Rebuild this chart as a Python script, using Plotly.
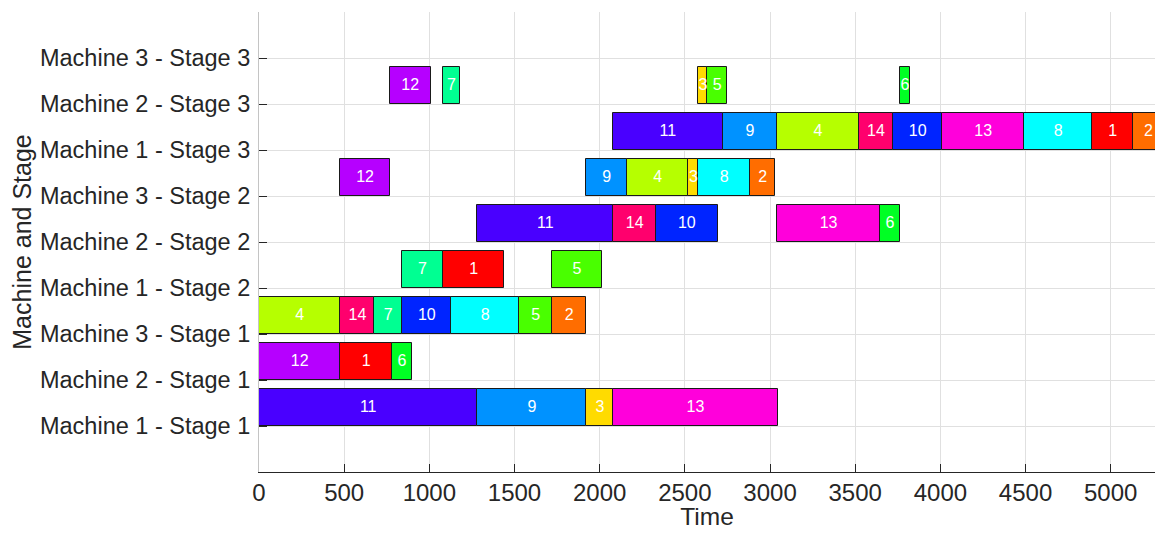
import plotly.graph_objects as go

# Row labels (y positions 1..9)
row_labels = [
    "Machine 1 - Stage 1", "Machine 2 - Stage 1", "Machine 3 - Stage 1",
    "Machine 1 - Stage 2", "Machine 2 - Stage 2", "Machine 3 - Stage 2",
    "Machine 1 - Stage 3", "Machine 2 - Stage 3", "Machine 3 - Stage 3",
]

# Operations: row index, job id, start time, end time
task_rows = [1, 1, 1, 1,
             2, 2, 2,
             3, 3, 3, 3, 3, 3, 3,
             4, 4, 4,
             5, 5, 5, 5, 5,
             6, 6, 6, 6, 6, 6,
             7, 7, 7, 7, 7, 7, 7, 7, 7,
             8, 8, 8, 8, 8]
task_jobs = [11, 9, 3, 13,
             12, 1, 6,
             4, 14, 7, 10, 8, 5, 2,
             7, 1, 5,
             11, 14, 10, 13, 6,
             12, 9, 4, 3, 8, 2,
             11, 9, 4, 14, 10, 13, 8, 1, 2,
             12, 7, 3, 5, 6]
task_start = [0, 1282, 1922, 2081,
              0, 478, 781,
              0, 478, 678, 840, 1130, 1527, 1721,
              840, 1080, 1721,
              1280, 2081, 2331, 3042, 3645,
              478, 1920, 2161, 2521, 2580, 2881,
              2079, 2721, 3042, 3521, 3723, 4011, 4492, 4891, 5132,
              767, 1079, 2580, 2631, 3762]
task_end = [1282, 1922, 2081, 3044,
            478, 781, 898,
            478, 678, 840, 1130, 1527, 1721, 1920,
            1080, 1441, 2011,
            2081, 2331, 2692, 3645, 3762,
            767, 2161, 2521, 2580, 2881, 3032,
            2721, 3042, 3521, 3723, 4011, 4492, 4891, 5132, 5310,
            1008, 1180, 2631, 2750, 3823]

x_ticks = [0, 500, 1000, 1500, 2000, 2500, 3000, 3500, 4000, 4500, 5000]

# hsv(14) colours, job 1..14
job_colors = {
    1: "#FF0000", 2: "#FF6D00", 3: "#FFDB00", 4: "#B6FF00", 5: "#49FF00",
    6: "#00FF24", 7: "#00FF92", 8: "#00FFFF", 9: "#0092FF", 10: "#0024FF",
    11: "#4900FF", 12: "#B600FF", 13: "#FF00DB", 14: "#FF006D",
}

durations = [e - s for s, e in zip(task_start, task_end)]
ypos = [r + 0.4 for r in task_rows]
mids = [(s + e) / 2 for s, e in zip(task_start, task_end)]
colors = [job_colors[j] for j in task_jobs]

FONT = "Liberation Sans, Arial, Helvetica, sans-serif"
TXT = "#262626"

fig = go.Figure()
fig.add_trace(go.Bar(
    orientation="h",
    base=task_start,
    x=durations,
    y=ypos,
    width=0.8,
    marker=dict(color=colors, line=dict(color="#1a1a1a", width=1)),
    showlegend=False,
    hoverinfo="skip",
))
fig.add_trace(go.Scatter(
    x=mids,
    y=ypos,
    mode="text",
    text=[str(j) for j in task_jobs],
    textfont=dict(color="white", size=16, family=FONT),
    textposition="middle center",
    showlegend=False,
    hoverinfo="skip",
))

fig.update_layout(
    width=1147, height=522,
    margin=dict(l=251, r=0, t=4, b=58),
    paper_bgcolor="white", plot_bgcolor="white",
    font=dict(family=FONT, color=TXT, size=23),
    bargap=0,
)
fig.update_xaxes(
    automargin=False,
    range=[0, 5260],
    tickvals=x_ticks,
    ticktext=[str(v) for v in x_ticks],
    tickfont=dict(size=24, color=TXT),
    ticks="inside", ticklen=8, tickcolor=TXT, tickwidth=1,
    showline=True, linecolor=TXT, linewidth=1,
    showgrid=True, gridcolor="#e0e0e0", gridwidth=1,
    zeroline=False,
    ticklabelstandoff=-1,
    title=dict(text="Time", font=dict(size=24.5, color=TXT), standoff=4),
)
fig.update_yaxes(
    automargin=False,
    range=[0, 10],
    tickvals=list(range(1, 10)),
    ticktext=row_labels,
    tickfont=dict(size=23.5, color=TXT),
    ticks="inside", ticklen=8, tickcolor=TXT, tickwidth=1,
    showline=True, linecolor="#c4c4c4", linewidth=1,
    showgrid=True, gridcolor="#e0e0e0", gridwidth=1,
    zeroline=False,
    ticklabelstandoff=3,
    title=dict(text="Machine and Stage", font=dict(size=25, color=TXT), standoff=5),
)

fig.write_html("out.html")
